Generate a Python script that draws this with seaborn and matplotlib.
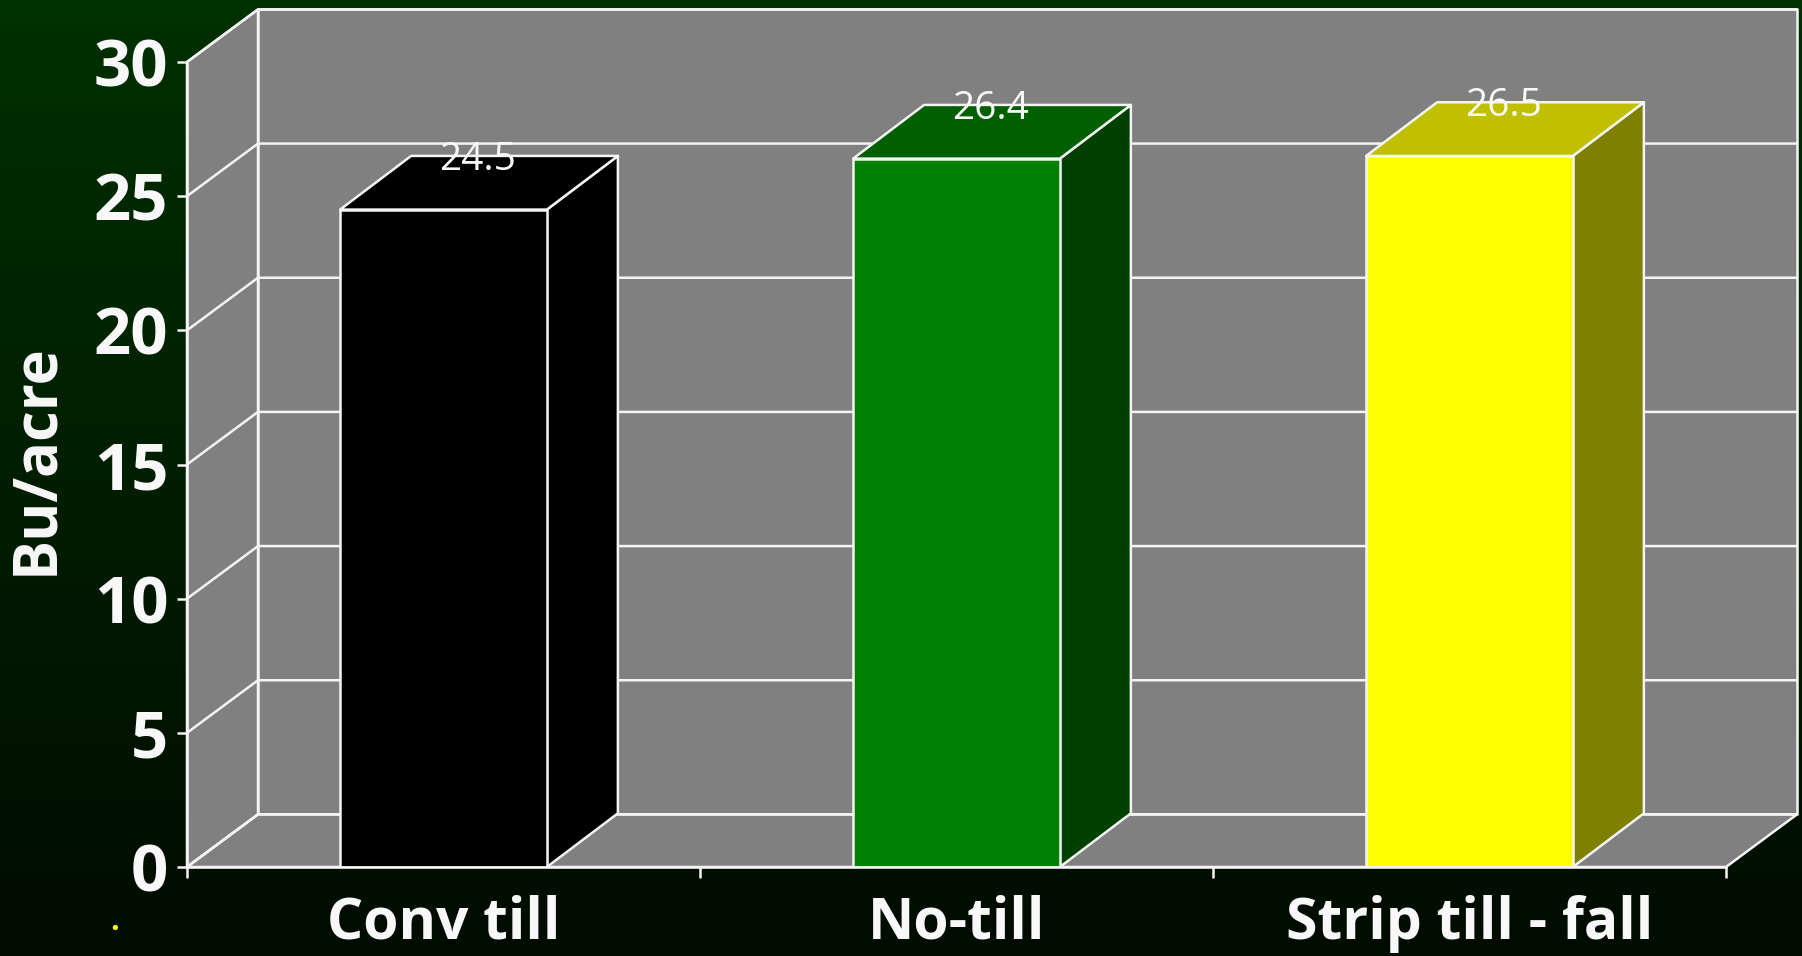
import numpy as np
import matplotlib
import matplotlib.pyplot as plt
import seaborn as sns
from matplotlib.patches import Polygon

matplotlib.use("Agg")

categories = ["Conv till", "No-till", "Strip till - fall"]
values = [24.5, 26.4, 26.5]
value_labels = ["24.5", "26.4", "26.5"]
y_ticks = [0, 5, 10, 15, 20, 25, 30]
front_colors = ["#000000", "#008000", "#ffff00"]
top_colors = ["#000000", "#006000", "#c0c000"]
side_colors = ["#000000", "#004000", "#808000"]

WIDTH, HEIGHT = 1802, 956
LINE = "#f4f4f4"
LW = 1.8
BAR_WIDTH = 0.403
# fake 3d depth, in data units
DEPTH_X = 71 / 513
DEPTH_Y = 1.96
BAR_DEPTH_Y = 2.0

sns.set_theme(style="white")
plt.rcParams["font.family"] = ["Open Sans", "DejaVu Sans"]

fig = plt.figure(figsize=(WIDTH / 100, HEIGHT / 100), dpi=100)

# dark green backdrop, fades downward
bg = fig.add_axes([0, 0, 1, 1], zorder=-1)
shade = np.linspace(0, 1, 256)[:, None]
bg_rgb = np.dstack((np.zeros_like(shade), (48 - 36 * shade) / 255, np.zeros_like(shade)))
bg.imshow(bg_rgb, aspect="auto")
bg.axis("off")

ax = fig.add_axes([187 / WIDTH, (HEIGHT - 867) / HEIGHT, 1539 / WIDTH, 805 / HEIGHT])
ax.patch.set_visible(False)

sns.barplot(
  x=categories,
  y=values,
  hue=categories,
  palette=front_colors,
  saturation=1,
  width=BAR_WIDTH,
  edgecolor=LINE,
  linewidth=LW,
  legend=False,
  ax=ax,
)
ax.set_xlim(-0.5, len(categories) - 0.5)
ax.set_ylim(y_ticks[0], y_ticks[-1])

x0, x1 = ax.get_xlim()
y0, y1 = ax.get_ylim()
dx, dy = DEPTH_X, DEPTH_Y


def face(points, color, zorder):
  ax.add_patch(
    Polygon(points, closed=True, facecolor=color, edgecolor=LINE, linewidth=LW, joinstyle="round", clip_on=False, zorder=zorder)
  )


def wall_line(xs, ys):
  ax.plot(xs, ys, color=LINE, linewidth=LW, clip_on=False, zorder=0.6, solid_capstyle="round")


# walls and floor
wall_grey = "#808080"
face([(x0, y0), (x0 + dx, y0 + dy), (x0 + dx, y1 + dy), (x0, y1)], wall_grey, 0.2)
face([(x0 + dx, y0 + dy), (x1 + dx, y0 + dy), (x1 + dx, y1 + dy), (x0 + dx, y1 + dy)], wall_grey, 0.2)
face([(x0, y0), (x1, y0), (x1 + dx, y0 + dy), (x0 + dx, y0 + dy)], wall_grey, 0.3)

for t in y_ticks:
  wall_line([x0, x0 + dx, x1 + dx], [t, t + dy, t + dy])

# bars, front face comes from seaborn
for i, val in enumerate(values):
  left = i - BAR_WIDTH / 2
  right = i + BAR_WIDTH / 2
  bd = BAR_DEPTH_Y
  face([(right, 0), (right + dx, bd), (right + dx, val + bd), (right, val)], side_colors[i], 1.5)
  face([(left, val), (right, val), (right + dx, val + bd), (left + dx, val + bd)], top_colors[i], 1.5)
  ax.annotate(
    value_labels[i],
    xy=(i + dx / 2, val + bd),
    xytext=(-1, -3),
    textcoords="offset points",
    color="#f8f8f8",
    fontsize=28,
    ha="center",
    va="center",
    zorder=5,
  )
for bar in ax.patches:
  if bar.__class__.__name__ == "Rectangle":
    bar.set_zorder(2)

for name in ("top", "right"):
  ax.spines[name].set_visible(False)
for name in ("left", "bottom"):
  ax.spines[name].set_color(LINE)
  ax.spines[name].set_linewidth(LW)

ax.set_yticks(y_ticks)
ax.tick_params(
  axis="y", left=True, length=7.5, width=LW, color=LINE, labelcolor="#f8f8f8", labelsize=47, pad=6
)
for lab in ax.get_yticklabels():
  lab.set_fontweight("bold")

# ticks sit between the categories, labels under the bars
ax.set_xticks(np.arange(x0, x1 + 0.5))
ax.set_xticklabels([])
ax.set_xticks(range(len(categories)), labels=categories, minor=True)
ax.tick_params(axis="x", which="major", bottom=True, length=8, width=LW, color=LINE)
ax.tick_params(axis="x", which="minor", bottom=False, length=0, labelcolor="#f8f8f8", labelsize=41, pad=20)
for lab in ax.get_xticklabels(minor=True):
  lab.set_fontweight("bold")

fig.text(37 / WIDTH, 1 - 459 / HEIGHT, "Bu/acre", color="#f8f8f8", fontsize=43, fontweight="bold", rotation=90, ha="center", va="center")
fig.text(115 / WIDTH, 1 - 930 / HEIGHT, ".", color="#ffff00", fontsize=22, fontweight="bold", ha="center", va="baseline")

fig.savefig("out.png", dpi=100)
